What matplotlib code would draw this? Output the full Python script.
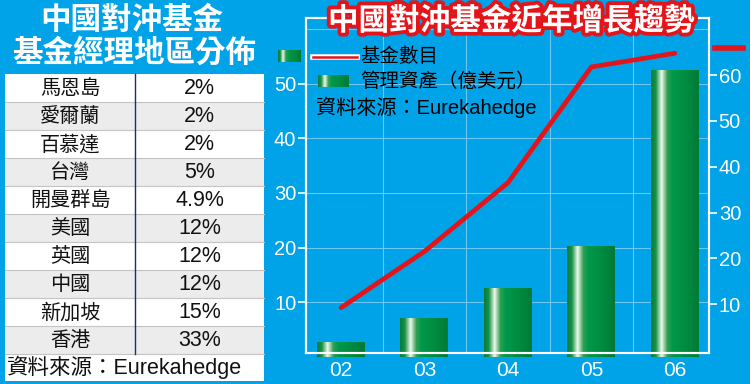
import numpy as np
import matplotlib.pyplot as plt
import matplotlib.patheffects as pe
from matplotlib.colors import LinearSegmentedColormap
from matplotlib.patches import Rectangle
from matplotlib.lines import Line2D

plt.rcParams['font.family'] = ['Liberation Sans', 'Noto Sans CJK TC']

# left table: manager location share
regions = ['馬恩島', '愛爾蘭', '百慕達', '台灣', '開曼群島', '美國', '英國', '中國', '新加坡', '香港']
shares = ['2%', '2%', '2%', '5%', '4.9%', '12%', '12%', '12%', '15%', '33%']

# right chart: growth
years = ['02', '03', '04', '05', '06']
assets = [2.7, 7.1, 12.6, 20.3, 52.4]    # 管理資產 (億美元), left axis
funds = [9.2, 21.5, 36.5, 61.8, 64.8]    # 基金數目, right axis
source = '資料來源：Eurekahedge'

BG = '#00a2e8'
RED = '#e3151a'
W, H = 750, 384

green = LinearSegmentedColormap.from_list('bar', [
    (0.0, '#0b7a38'), (0.10, '#159447'), (0.22, '#f2f8ec'), (0.34, '#2f9f55'),
    (0.45, '#00984a'), (0.70, '#008d42'), (1.0, '#007a36')])
grad = np.linspace(0, 1, 200).reshape(1, -1)


def fx(x):
    return x / W


def fy(y):
    return 1 - y / H


fig = plt.figure(figsize=(7.5, 3.84), dpi=100)
fig.patch.set_facecolor(BG)

# ---------------- left panel: table ----------------
fig.text(fx(132), fy(21), '中國對沖基金', ha='center', va='center',
         fontsize=22, weight='heavy', color='white')
fig.text(fx(134), fy(54), '基金經理地區分佈', ha='center', va='center',
         fontsize=22, weight='heavy', color='white')

tab = fig.add_axes([0, 0, 270 / W, 1])
tab.set_xlim(0, 270)
tab.set_ylim(H, 0)
tab.axis('off')

top, rh = 73.5, 28.0
left, right, mid = 5, 264, 135
for i, (r, s) in enumerate(zip(regions, shares)):
    y = top + i * rh
    tab.add_patch(Rectangle((left, y), right - left, rh,
                            fc='#ececec' if i % 2 else 'white', ec='none'))
    tab.plot([left, right], [y + rh, y + rh], color='#c4c4c4', lw=0.8)
    tab.text((left + mid) / 2, y + rh / 2 + 1, r, ha='center', va='center',
             fontsize=14.5, color='#111111')
    tab.text((mid + right) / 2, y + rh / 2 + 1, s, ha='center', va='center',
             fontsize=15.5, color='#111111')
tab.plot([mid, mid], [top, top + 10 * rh], color='#1f2d6e', lw=1)
ys = top + 10 * rh
tab.add_patch(Rectangle((left, ys), right - left, 27, fc='white', ec='none'))
tab.text(left + 2, ys + 14, source, ha='left', va='center', fontsize=15.5, color='#111111')

# ---------------- right panel: chart ----------------
ax = fig.add_axes([fx(306), fy(353), 403 / W, 335 / H])
ax.set_facecolor(BG)
x = np.arange(len(years))
bars = ax.bar(x, assets, width=0.575, color='#009245', zorder=2)
for b in bars:
    x0, y0 = b.get_x(), b.get_y()
    im = ax.imshow(grad, cmap=green, aspect='auto', zorder=2.5,
                   extent=[x0, x0 + b.get_width(), y0, y0 + b.get_height()])
    im.set_clip_path(b)
ax.set_xlim(-0.42, 4.41)
ax.set_ylim(0.7, 62)
ax.set_xticks(x)
ax.set_xticklabels(years)
ax.set_yticks([10, 20, 30, 40, 50])
ax.set_axisbelow(True)
for v in [10, 20, 30, 40, 50, 60]:
    ax.axhline(v, color='#6cc8f2', lw=0.8, zorder=0)
for v in x[:-1] + 0.5:
    ax.axvline(v, color='#6cc8f2', lw=0.8, zorder=0)
ax.tick_params(axis='y', colors='white', labelsize=14.5, length=6, width=1.2, pad=1)
ax.tick_params(axis='x', colors='white', labelsize=15, length=0, pad=6)

ax2 = ax.twinx()
ax2.plot(x, funds, color=RED, lw=3.4, solid_capstyle='round', solid_joinstyle='round', zorder=5)
ax2.set_ylim(-0.7, 72.5)
ax2.set_yticks([10, 20, 30, 40, 50, 60])
ax2.tick_params(axis='y', colors='white', labelsize=14.5, length=6, width=1.2, pad=1)

for a in (ax, ax2):
    for sp in a.spines.values():
        sp.set_color('white')
        sp.set_linewidth(1.5)

fig.text(fx(511), fy(22), '中國對沖基金近年增長趨勢', ha='center', va='center',
         fontsize=22, weight='heavy', color='white',
         path_effects=[pe.withStroke(linewidth=5.5, foreground=RED)])


# legend, drawn by hand
def grad_box(x0, y0, x1, y1):
    bx = fig.add_axes([fx(x0), fy(y1), (x1 - x0) / W, (y1 - y0) / H])
    bx.imshow(grad, cmap=green, aspect='auto')
    bx.axis('off')


fig.add_artist(Line2D([fx(313), fx(357)], [fy(57), fy(57)], color=RED, lw=1.8,
                      path_effects=[pe.withStroke(linewidth=4, foreground='white')]))
fig.text(fx(360), fy(57), '基金數目', ha='left', va='center', fontsize=14, color='black')
grad_box(318, 75, 349, 87)
fig.text(fx(360), fy(81), '管理資產（億美元）', ha='left', va='center', fontsize=14, color='black')
fig.text(fx(316), fy(107), source, ha='left', va='center', fontsize=14.5, color='black')

# axis markers: green for left axis, red for right axis
grad_box(278, 50, 301, 62)
fig.add_artist(Line2D([fx(715), fx(743)], [fy(48), fy(48)], color=RED, lw=4))

fig.savefig('out.png', dpi=100, facecolor=BG)
